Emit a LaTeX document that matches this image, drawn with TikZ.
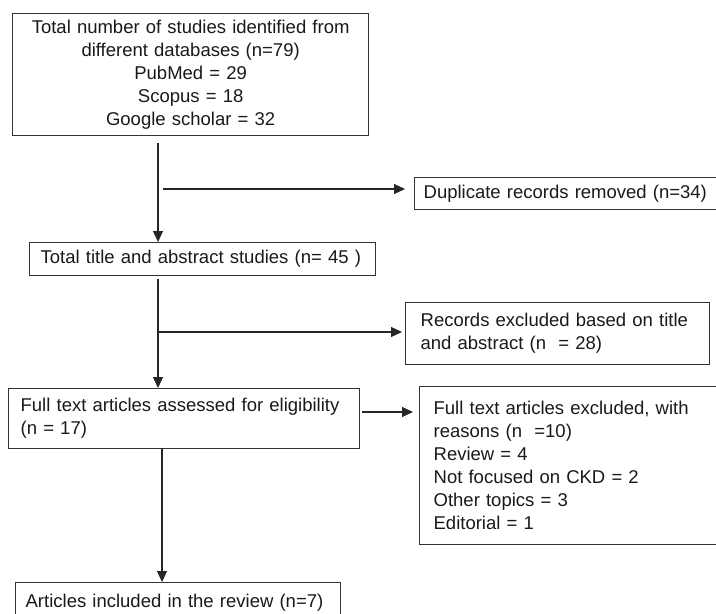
\documentclass[tikz,border=0pt]{standalone}
\usepackage{fontspec}
\setmainfont{Liberation Sans}
\usetikzlibrary{arrows.meta}

\begin{document}
\begin{tikzpicture}[
        x=1pt, y=-1pt,
        font=\fontsize{18.5}{23}\selectfont,
        box/.style={draw=black!80, line width=1.3pt, anchor=north west, inner xsep=14pt, inner ysep=0pt, align=left, text=black!90},
        arrow/.style={line width=1.2pt, color=black!85, -{Triangle[length=11pt,width=10pt]}}
    ]
    \clip (0,0) rectangle (716,614);

    % --- Main column ---
    \node[box, minimum height=122pt, text width=328pt, align=center] (src) at (12,13)
    {Total number of studies identified from\\ different databases (n=79)\\ PubMed = 29\\ Scopus = 18\\ Google scholar = 32};
    \node[box, inner xsep=11pt, minimum height=33pt, text width=324pt] (tae) at (29,242)
    {Total title and abstract studies (n= 45 )};
    \node[box, inner xsep=12pt, minimum height=60pt, text width=327pt] (ful) at (8,388)
    {Full text articles assessed for eligibility\\ (n = 17)};
    \node[box, inner xsep=10pt, minimum height=40pt, text width=305pt] (inc) at (15,582)
    {Articles included in the review (n=7)};

    % --- Side boxes ---
    \node[box, inner xsep=9pt, minimum height=32pt, text width=302pt] (dup) at (414,177)
    {Duplicate records removed (n=34)};
    \node[box, inner xsep=15pt, minimum height=62pt, text width=274pt] (rec) at (405,302)
    {Records excluded based on title\\ and abstract (n \ = 28)};
    \node[box, minimum height=158pt, text width=292pt] (exc) at (419,386)
    {Full text articles excluded, with\\ reasons (n \ =10)\\ Review = 4\\ Not focused on CKD = 2\\ Other topics = 3\\ Editorial = 1};

    % --- Down arrows ---
    \coordinate (c1) at (158,143);
    \draw[arrow] (c1) -- (c1 |- tae.north);
    \coordinate (c2) at (158,279);
    \draw[arrow] (c2) -- (c2 |- ful.north);
    \coordinate (c3) at (162,448);
    \draw[arrow] (c3) -- (c3 |- inc.north);

    % --- Side arrows ---
    \coordinate (s1) at (163,189);
    \draw[arrow, shorten >=9pt] (s1) -- (s1 -| dup.west);
    \coordinate (s2) at (158,332);
    \draw[arrow, shorten >=3pt] (s2) -- (s2 -| rec.west);
    \coordinate (s3) at (362,412);
    \draw[arrow, shorten >=6pt] (s3) -- (s3 -| exc.west);

\end{tikzpicture}
\end{document}
